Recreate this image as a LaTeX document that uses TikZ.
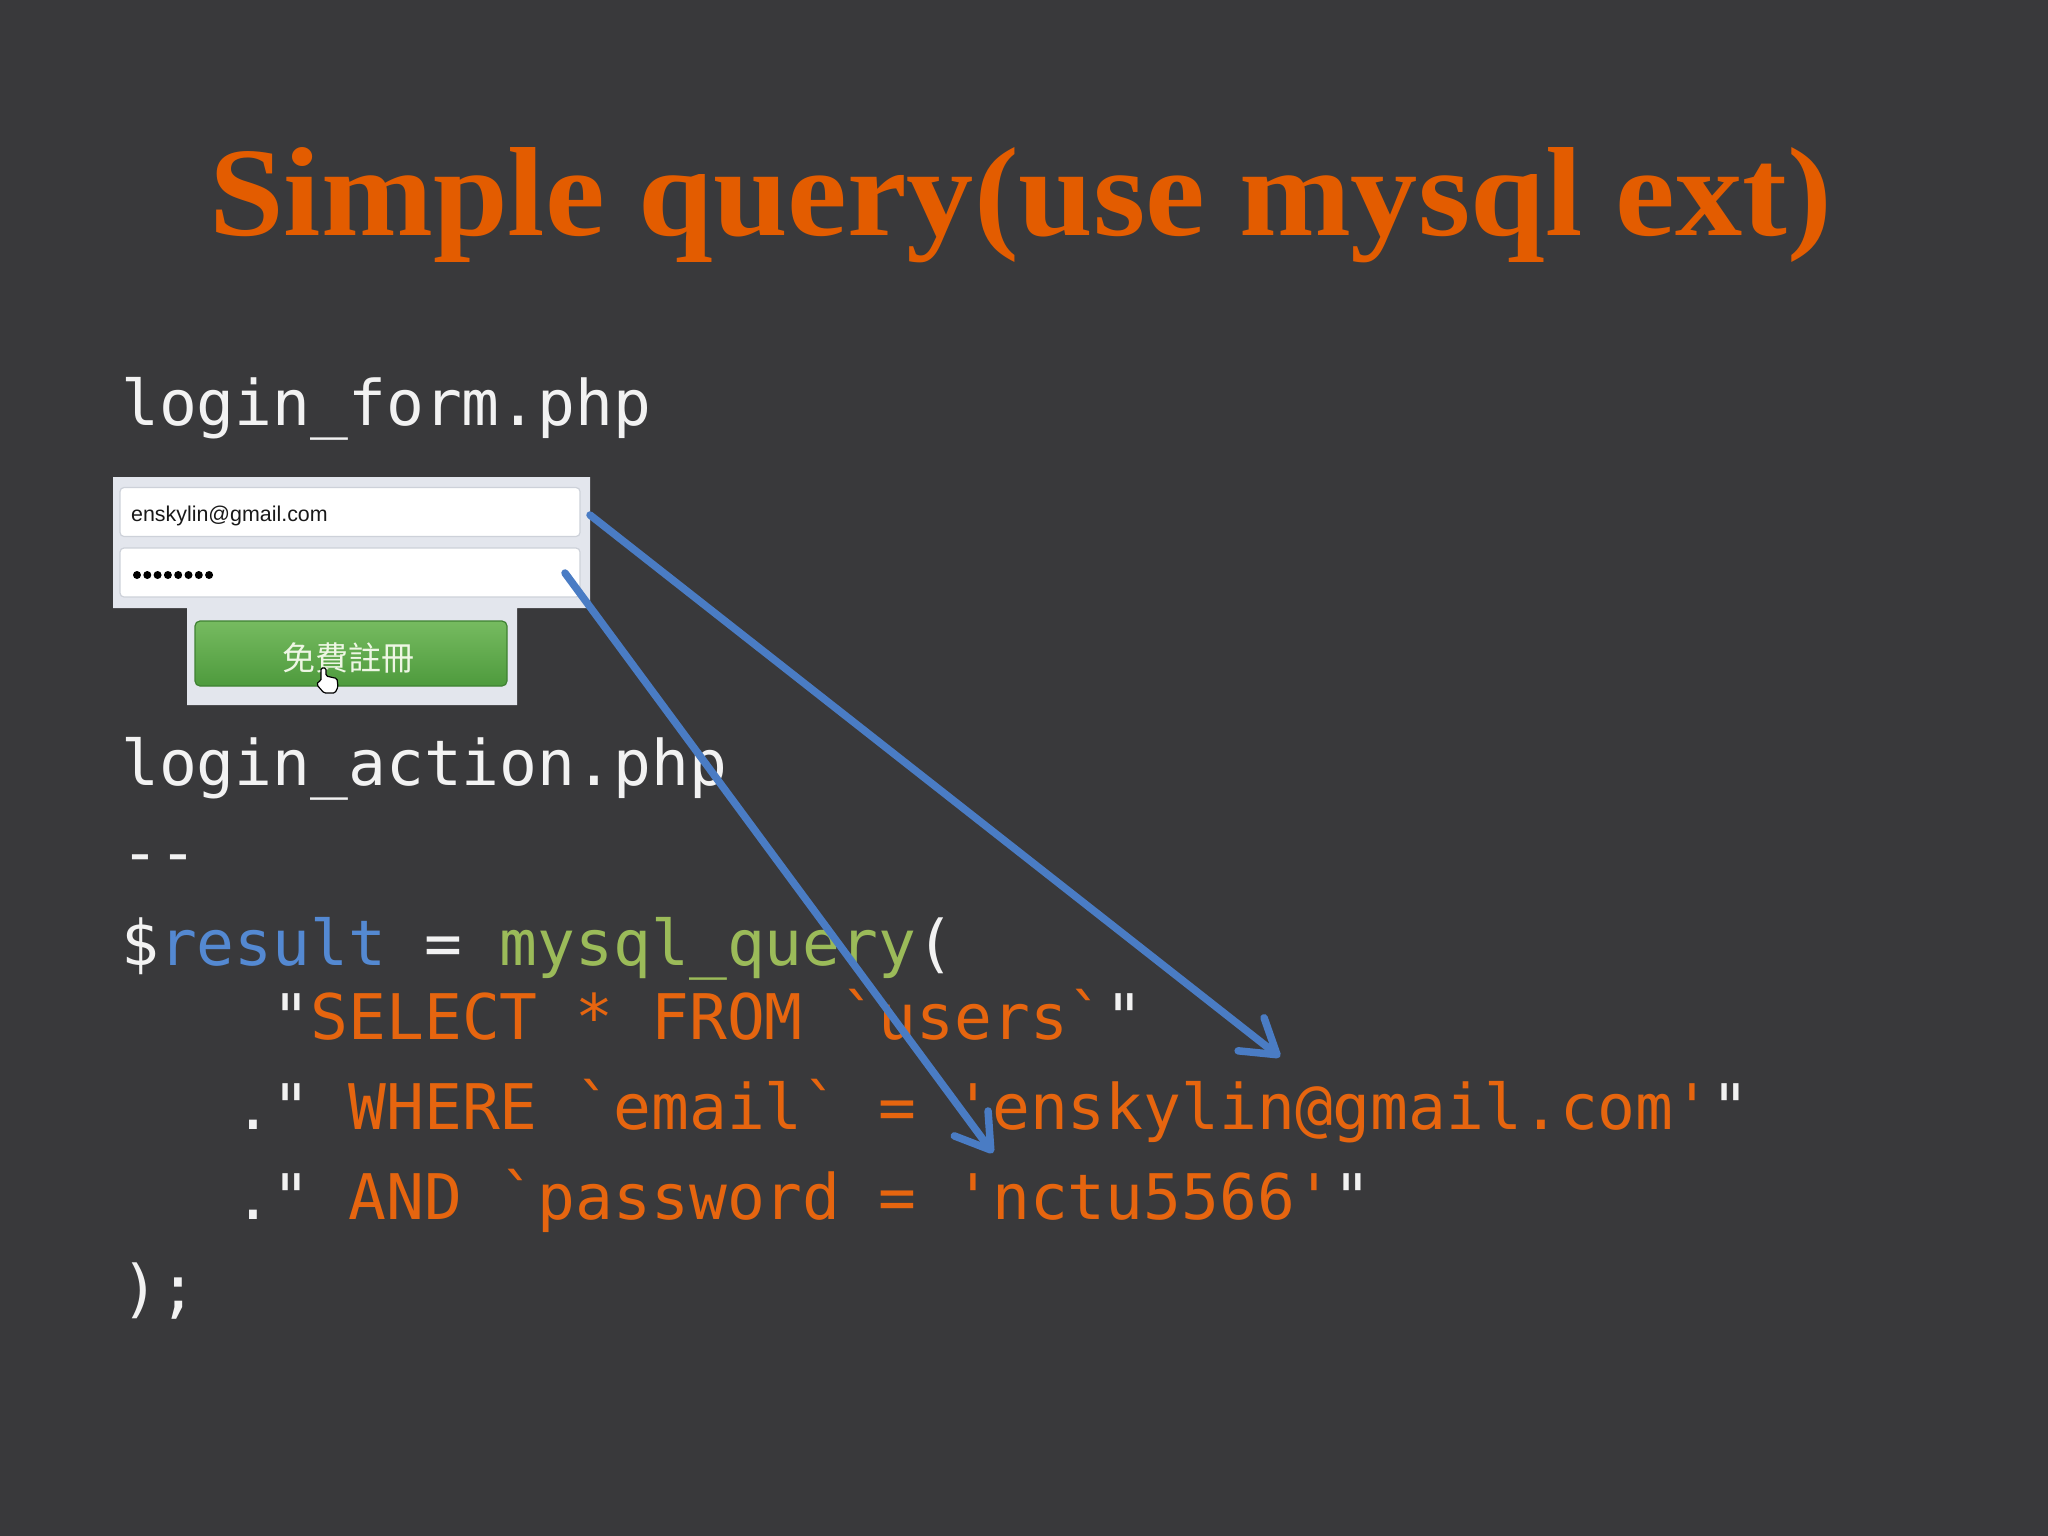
\documentclass[tikz,border=0pt]{standalone}
\usepackage{fontspec}
\usepackage{graphicx}
\setmonofont{DejaVu Sans Mono}
\newfontfamily\titlefont{Liberation Serif}
\newfontfamily\formfont{Liberation Sans}
\newfontfamily\cjkfont{Noto Sans CJK TC}
\usetikzlibrary{arrows.meta}
\definecolor{bg}{HTML}{39393B}
\definecolor{titleorange}{HTML}{E35C00}
\definecolor{codeorange}{HTML}{E6650F}
\definecolor{codewhite}{HTML}{F2F2F2}
\definecolor{codeblue}{HTML}{5489D2}
\definecolor{codegreen}{HTML}{9BBB59}
\definecolor{arrowblue}{HTML}{4A7CC4}
\definecolor{panelgray}{HTML}{E3E6ED}
\definecolor{fieldborder}{HTML}{CDD1D9}
\definecolor{btntop}{HTML}{76BB60}
\definecolor{btnbottom}{HTML}{4E9A3D}
\definecolor{btnborder}{HTML}{3F8232}
\definecolor{btntext}{HTML}{EEF6E4}
\newcommand\codefont{\ttfamily\fontsize{62.9}{70}\selectfont}
\newcommand\ors[1]{\textcolor{codeorange}{#1}}
\begin{document}
\begin{tikzpicture}[x=1pt,y=-1pt,
  codeline/.style={inner sep=0pt,anchor=base west,text=codewhite,font=\codefont},
  field/.style={draw=fieldborder,fill=white,line width=1.2pt,rounded corners=4pt,minimum width=460pt,minimum height=49pt,inner sep=0pt},
  dot/.style={circle,fill=black,inner sep=0pt,minimum size=8pt},
  linkarrow/.style={draw=arrowblue,line width=7.5pt,line cap=round,-{Straight Barb[length=33pt,width=42pt,round]}}]
\useasboundingbox (0,0) rectangle (2048,1536);
\fill[bg] (0,0) rectangle (2048,1536);

% title
\node[inner sep=0pt,anchor=base west,text=titleorange] (title) at (209,235)
  {\resizebox{1623pt}{88pt}{\titlefont\bfseries\fontsize{128}{130}\selectfont Simple query(use mysql ext)}};

% file name
\node[codeline] (formfile) at (121,425) {login\_form.php};

% form panel
\fill[panelgray] (113,477) -- (590,477) -- (590,608) -- (517,608) -- (517,705)
  -- (187,705) -- (187,608) -- (113,608) -- cycle;
\node[field] (emailfield) at (350,512) {};
\node[field] (passfield) at (350,572.5) {};
\node[inner sep=0pt,anchor=base west,text=black!90,font=\formfont\fontsize{21.4}{24}\selectfont] (emailtext) at (131,521) {enskylin@gmail.com};
\foreach \i in {0,...,7}{
  \node[dot] (pd\i) at ({137+10.3*\i},575) {};
}
\node[draw=btnborder,line width=1.2pt,rounded corners=5pt,top color=btntop,bottom color=btnbottom,
  minimum width=312pt,minimum height=65pt,inner sep=0pt] (button) at (351,653.5) {};
\node[inner sep=0pt,anchor=base,text=btntext,font=\cjkfont\fontsize{33}{33}\selectfont] (btntext) at (348,670.5) {免費註冊};
% cursor hand
\filldraw[fill=white,draw=black,line width=1.2pt,rounded corners=1.5pt]
  (321,681) -- (321,668) -- (326,668) -- (326,676) -- (337,678.5) -- (338,687)
  -- (335,693) -- (324,693) -- (317,685) -- (318,681.5) -- cycle;

% action file
\node[codeline] (actionfile) at (121,785) {login\_action.php};
\node[codeline] (dashes) at (121,874) {--};
\node[codeline] (line1) at (121,965)
  {\$\textcolor{codeblue}{result} = \textcolor{codegreen}{mysql\_query}(};
\node[codeline] (line2) at ({121+4*37.87},1039)
  {"\ors{SELECT * FROM `users`}"};
\node[codeline] (line3) at ({121+3*37.87},1129)
  {." \ors{WHERE `email` = 'enskylin@gmail.com'}"};
\node[codeline] (line4) at ({121+3*37.87},1219)
  {." \ors{AND `password = 'nctu5566'}"};
\node[codeline] (line5) at (121,1310) {);};

% arrows
\coordinate (emailout) at (590,515);
\coordinate (emailin) at (1280,1057);
\coordinate (passout) at (565,573);
\coordinate (passin) at (993,1153);
\draw[linkarrow] (emailout) -- (emailin);
\draw[linkarrow] (passout) -- (passin);
\end{tikzpicture}
\end{document}
